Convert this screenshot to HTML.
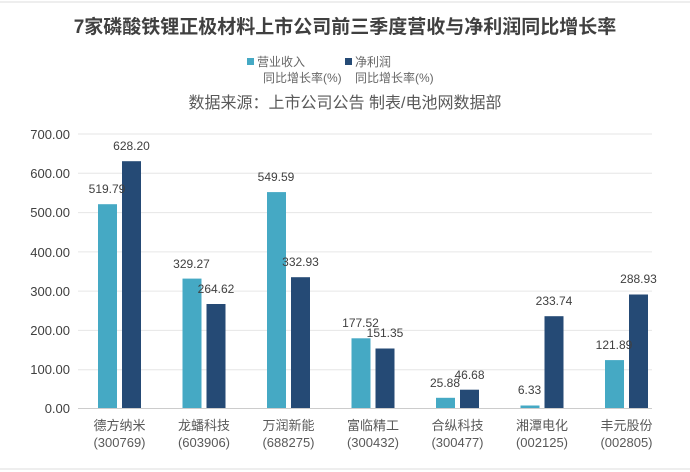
<!DOCTYPE html>
<html><head><meta charset="utf-8"><style>
body{margin:0;background:#fff;}
svg{display:block;font-family:"Liberation Sans","Noto Sans CJK SC",sans-serif;}
</style></head><body>
<svg width="690" height="472" xmlns="http://www.w3.org/2000/svg">
<rect width="690" height="472" fill="#fff"/>
<line x1="0" y1="2" x2="690" y2="2" stroke="#ddd"/>
<line x1="0" y1="469" x2="690" y2="469" stroke="#ddd"/>
<text x="345" y="33" text-anchor="middle" font-size="19" font-weight="bold" fill="#404040">7家磷酸铁锂正极材料上市公司前三季度营收与净利润同比增长率</text>
<rect x="247" y="58" width="7" height="7" fill="#45a9c4"/>
<text x="257" y="66" font-size="12" fill="#666">营业收入</text>
<text x="263" y="82" font-size="12" fill="#666">同比增长率(%)</text>
<rect x="345" y="58" width="7" height="7" fill="#254a75"/>
<text x="355" y="66" font-size="12" fill="#666">净利润</text>
<text x="355" y="82" font-size="12" fill="#666">同比增长率(%)</text>
<text x="345" y="108" text-anchor="middle" font-size="16" fill="#595959">数据来源：上市公司公告 制表/电池网数据部</text>
<g stroke="#e6e6e6">
<line x1="78" y1="134" x2="652" y2="134"/><line x1="78" y1="173.3" x2="652" y2="173.3"/>
<line x1="78" y1="212.6" x2="652" y2="212.6"/><line x1="78" y1="251.9" x2="652" y2="251.9"/>
<line x1="78" y1="291.1" x2="652" y2="291.1"/><line x1="78" y1="330.4" x2="652" y2="330.4"/>
<line x1="78" y1="369.7" x2="652" y2="369.7"/>
</g>
<line x1="78" y1="408.5" x2="652" y2="408.5" stroke="#ccc"/>
<g font-size="13" fill="#404040" text-anchor="end">
<text x="70" y="139">700.00</text><text x="70" y="178">600.00</text><text x="70" y="217">500.00</text>
<text x="70" y="257">400.00</text><text x="70" y="296">300.00</text><text x="70" y="335">200.00</text>
<text x="70" y="374">100.00</text><text x="70" y="413">0.00</text>
</g>
<g fill="#45a9c4">
<rect x="98" y="204.2" width="19" height="203.8"/>
<rect x="182.5" y="278.6" width="19" height="129.4"/>
<rect x="267" y="192.1" width="19" height="215.9"/>
<rect x="351.5" y="338.3" width="19" height="69.7"/>
<rect x="436" y="397.8" width="19" height="10.2"/>
<rect x="520.5" y="405.5" width="19" height="2.5"/>
<rect x="605" y="360.1" width="19" height="47.9"/>
</g>
<g fill="#254a75">
<rect x="122" y="161.2" width="19" height="246.8"/>
<rect x="206.5" y="304" width="19" height="104"/>
<rect x="291" y="277.2" width="19" height="130.8"/>
<rect x="375.5" y="348.5" width="19" height="59.5"/>
<rect x="460" y="389.7" width="19" height="18.3"/>
<rect x="544.5" y="316.2" width="19" height="91.8"/>
<rect x="629" y="294.5" width="19" height="113.5"/>
</g>
<g font-size="12" fill="#404040" text-anchor="middle">
<text x="107" y="193">519.79</text><text x="131.5" y="150">628.20</text>
<text x="191.5" y="268">329.27</text><text x="216" y="293">264.62</text>
<text x="276" y="181">549.59</text><text x="300.5" y="266">332.93</text>
<text x="360.5" y="327">177.52</text><text x="385" y="337">151.35</text>
<text x="445" y="387">25.88</text><text x="469.5" y="379">46.68</text>
<text x="529.5" y="394">6.33</text><text x="554" y="305">233.74</text>
<text x="614" y="349">121.89</text><text x="638.5" y="283">288.93</text>
</g>
<g font-size="13" fill="#595959" text-anchor="middle">
<text x="119.5" y="430">德方纳米</text><text x="119.5" y="447">(300769)</text>
<text x="204" y="430">龙蟠科技</text><text x="204" y="447">(603906)</text>
<text x="288.5" y="430">万润新能</text><text x="288.5" y="447">(688275)</text>
<text x="373" y="430">富临精工</text><text x="373" y="447">(300432)</text>
<text x="457.5" y="430">合纵科技</text><text x="457.5" y="447">(300477)</text>
<text x="542" y="430">湘潭电化</text><text x="542" y="447">(002125)</text>
<text x="626.5" y="430">丰元股份</text><text x="626.5" y="447">(002805)</text>
</g>
</svg>
</body></html>
